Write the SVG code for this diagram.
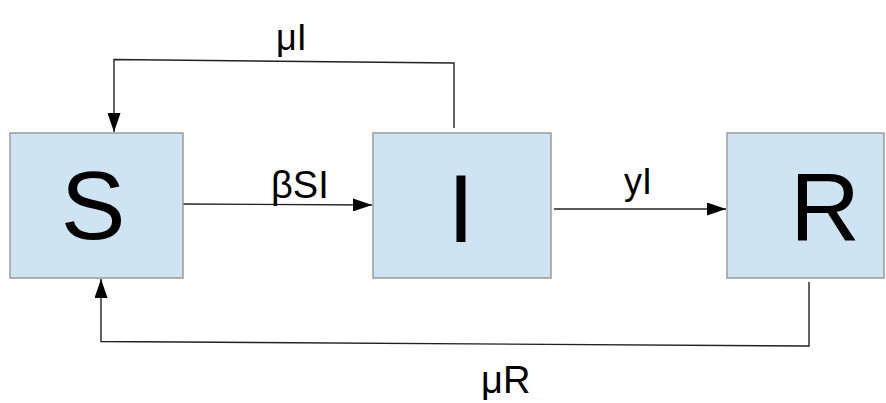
<svg xmlns="http://www.w3.org/2000/svg" width="886" height="403" viewBox="0 0 886 403">
  <style>
    .box { fill: #cfe4f2; stroke: #9a9a9a; stroke-width: 1.5; }
    .big { font-family: "Liberation Sans", Arial, sans-serif; font-size: 97px; fill: #000; text-anchor: middle; }
    .lbl { font-family: "Liberation Sans", Arial, sans-serif; font-size: 38px; fill: #000; }
    .lbl2 { font-family: "Liberation Sans", Arial, sans-serif; font-size: 36px; fill: #000; }
    .wire { fill: none; stroke: #222; stroke-width: 1.4; }
  </style>
  <defs>
    <marker id="arrow" markerUnits="userSpaceOnUse" markerWidth="19" markerHeight="13" refX="19" refY="6.5" orient="auto">
      <path d="M0,0 L19,6.5 L0,13 z" fill="#000"/>
    </marker>
  </defs>
  <rect width="886" height="403" fill="#fff"/>

  <g id="connectors">
    <!-- infected feedback to S -->
    <path class="wire" d="M454,128 L454,63 L114,59.5 L114,132" marker-end="url(#arrow)"/>
    <!-- infection S to I -->
    <path class="wire" d="M183,204 L372,205" marker-end="url(#arrow)"/>
    <!-- recovery I to R -->
    <path class="wire" d="M554,209 L726,209" marker-end="url(#arrow)"/>
    <!-- recovered feedback to S -->
    <path class="wire" d="M809,282 L809,346 L101,341.5 L101,279" marker-end="url(#arrow)"/>
    <text class="lbl2" x="276" y="50">μI</text>
    <text class="lbl" x="271" y="198">βSI</text>
    <text class="lbl2" x="624" y="194">yI</text>
    <text class="lbl" x="481" y="393">μR</text>
  </g>

  <g id="node-S">
    <rect class="box" x="10" y="133" width="173" height="145"/>
    <text class="big" x="93" y="239">S</text>
  </g>
  <g id="node-I">
    <rect class="box" x="373" y="133" width="178" height="145"/>
    <text class="big" x="461" y="242">I</text>
  </g>
  <g id="node-R">
    <rect class="box" x="727" y="133" width="157" height="145"/>
    <text class="big" x="825" y="241">R</text>
  </g>
</svg>
